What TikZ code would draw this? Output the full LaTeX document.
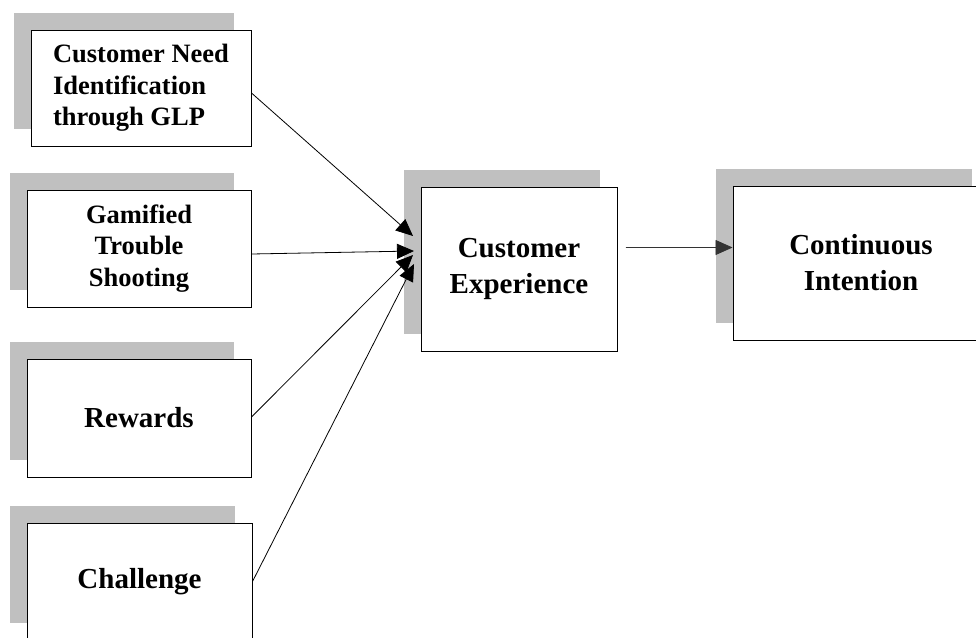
\documentclass[tikz,border=0pt]{standalone}
\usepackage{fontspec}
\setmainfont{Liberation Serif}
\usetikzlibrary{arrows.meta, shadows}
\definecolor{shadowgray}{RGB}{192,192,192}
\tikzstyle{block} = [rectangle, draw=black, line width=1pt, fill=white, align=center, drop shadow={shadow xshift=-17pt, shadow yshift=17pt, fill=shadowgray, opacity=1}]
\tikzstyle{arrow} = [line width=0.8pt, -{Triangle[length=17pt,width=15pt]}]

\begin{document}
\begin{tikzpicture}[
        x=1pt, y=-1pt,
        small/.style={font=\bfseries\fontsize{26.5}{31.5}\selectfont},
        big/.style={font=\bfseries\fontsize{29}{36}\selectfont}
    ]
        \useasboundingbox (0,0) rectangle (976,637);
        \clip (0,0) rectangle (976,637);

        % Factors on the left
        \node (need) [block, small, align=left, minimum width=220pt, minimum height=116pt] at (141,88) {Customer Need\\Identification\\through GLP};
        \node (trouble) [block, small, minimum width=224pt, minimum height=117pt] at (139,248.5) {Gamified\\Trouble\\Shooting};
        \node (rewards) [block, big, minimum width=224pt, minimum height=118pt] at (139,418) {Rewards};
        \node (challenge) [block, big, minimum width=225pt, minimum height=117pt] at (139.5,581.5) {Challenge};

        % Mediator and outcome
        \node (experience) [block, big, minimum width=196pt, minimum height=164pt] at (519,269) {Customer\\Experience};
        \node (intention) [block, big, minimum width=256pt, minimum height=154pt] at (861,263) {Continuous\\Intention};

        % Arrow ends on the shadow of the experience box
        \coordinate (tipA) at (413,236);
        \coordinate (tipB) at (414,251);
        \coordinate (tipC) at (413,255);
        \coordinate (tipD) at (414,264);

        \draw[arrow] ([yshift=-5pt]need.east) -- (tipA);
        \draw[arrow] ([yshift=-5.5pt]trouble.east) -- (tipB);
        \draw[arrow] ([yshift=1pt]rewards.east) -- (tipC);
        \draw[arrow] (challenge.east) -- (tipD);

        \draw[arrow, draw=black!80, fill=black!75] ([xshift=8pt, yshift=21.5pt]experience.east) -- ([yshift=15.5pt]intention.west);

    \end{tikzpicture}
\end{document}
